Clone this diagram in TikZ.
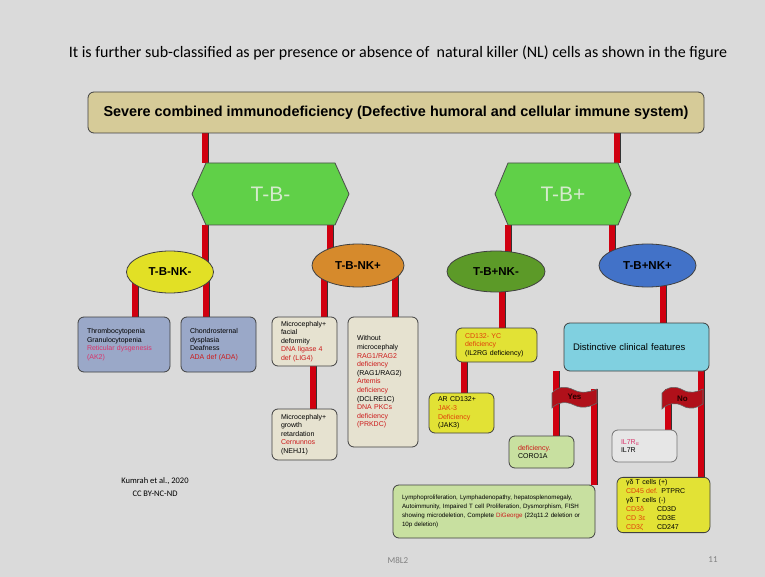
\documentclass[tikz,border=0pt]{standalone}
\usepackage{fontspec}
\setmainfont{Liberation Sans}
\newfontfamily\calib{Carlito}
\usetikzlibrary{shapes.geometric}
\definecolor{bgc}{HTML}{DADADA}
\definecolor{topfill}{HTML}{D6CB98}
\definecolor{hexfill}{HTML}{60D048}
\definecolor{hextxt}{HTML}{D5EACD}
\definecolor{ylw}{HTML}{E2E025}
\definecolor{org}{HTML}{D68A2C}
\definecolor{dgreen}{HTML}{5C9A28}
\definecolor{blu}{HTML}{4272C8}
\definecolor{bluegray}{HTML}{9AA8C8}
\definecolor{beige}{HTML}{E6E2D0}
\definecolor{ybox}{HTML}{E2E235}
\definecolor{lgreen}{HTML}{C8E0A0}
\definecolor{cyanbox}{HTML}{80D0E0}
\definecolor{whitebox}{HTML}{E6E6E6}
\definecolor{barred}{HTML}{D00010}
\definecolor{flagred}{HTML}{B0101A}
\definecolor{redt}{HTML}{CC1A1A}
\definecolor{pinkr}{HTML}{D8336A}
\definecolor{orgt}{HTML}{E0400A}
\pgfdeclarelayer{back}
\pgfdeclarelayer{conns}
\pgfdeclarelayer{shapes}
\pgfsetlayers{back,conns,shapes,main}
\begin{document}
\begin{tikzpicture}[x=1pt,y=-1pt,
  conn/.style={draw=barred, line width=5.4pt, preaction={draw=black!80, line width=7pt}},
  box/.style={draw=black!75, line width=0.8pt, rounded corners=6pt, inner xsep=9pt, inner ysep=2pt,
    align=left, font=\fontsize{7}{8.6}\selectfont},
  ell/.style={ellipse, draw=black!75, line width=0.8pt, inner sep=0pt, outer sep=0pt,
    font=\bfseries\fontsize{11.5}{12}\selectfont},
  hexn/.style={inner sep=0pt, outer sep=0pt, text=hextxt, font=\fontsize{21}{24}\selectfont},
  hexs/.style={fill=hexfill, draw=black!70, line width=0.8pt},
  flag/.style={fill=flagred, draw=black!60, line width=0.6pt},
  flagtxt/.style={inner sep=0pt, outer sep=0pt, text=black!85!red, font=\bfseries\fontsize{8}{9}\selectfont}
]
\useasboundingbox (0,0) rectangle (765,577);
\begin{pgfonlayer}{back}
\fill[bgc] (0,0) rectangle (765,577);
\end{pgfonlayer}

% title
\node[font=\calib\fontsize{16}{19}\selectfont] (title) at (398,53)
  {It is further sub-classified as per presence or absence of \ natural killer (NL) cells as shown in the figure};

% top box
\node[draw=black!75, line width=0.8pt, rounded corners=6pt, fill=topfill, minimum width=616pt, minimum height=41pt,
  font=\bfseries\fontsize{14.4}{16}\selectfont] (scid) at (396,112.5)
  {Severe combined immunodeficiency (Defective humoral and cellular immune system)};

% hexagons
\node[hexn, minimum width=157pt, minimum height=62pt] (hexA) at (270.5,194) {T-B-};
\node[hexn, minimum width=136pt, minimum height=62pt] (hexB) at (563,194) {T-B+};

% ellipses
\node[ell, fill=ylw, minimum width=87pt, minimum height=42pt] (e1) at (170,272) {T-B-NK-};
\node[ell, fill=org, minimum width=92pt, minimum height=43pt] (e2) at (358,265.5) {T-B-NK+};
\node[ell, fill=dgreen, minimum width=98pt, minimum height=41pt] (e3) at (496,271.5) {T-B+NK-};
\node[ell, fill=blu, minimum width=97pt, minimum height=43pt] (e4) at (647.5,265.5) {T-B+NK+};

% boxes
\node[box, fill=bluegray, text width=74pt, minimum height=55pt] (b1) at (124,344.5)
  {Thrombocytopenia\\Granulocytopenia\\{\color{pinkr}Reticular dysgenesis}\\{\color{pinkr}(AK2)}};
\node[box, fill=bluegray, text width=57pt, minimum height=55pt] (b2) at (218.5,344.5)
  {Chondrosternal\\dysplasia\\Deafness\\{\color{redt}ADA def (ADA)}};
\node[box, fill=beige, text width=47pt, minimum height=49pt] (b3) at (304.5,341.5)
  {Microcephaly+\\facial\\deformity\\{\color{redt}DNA ligase 4}\\{\color{redt}def (LIG4)}};
\node[box, fill=beige, text width=47pt, minimum height=51pt] (b4) at (304.5,434.5)
  {Microcephaly+\\growth\\retardation\\{\color{redt}Cernunnos}\\(NEHJ1)};
\node[box, fill=beige, text width=52pt, minimum height=130pt] (b5) at (383,382)
  {Without\\microcephaly\\{\color{redt}RAG1/RAG2}\\{\color{redt}deficiency}\\(RAG1/RAG2)\\{\color{redt}Artemis}\\{\color{redt}deficiency}\\(DCLRE1C)\\{\color{redt}DNA PKCs}\\{\color{redt}deficiency}\\{\color{redt}(PRKDC)}};
\node[box, fill=ybox, text width=63pt, minimum height=34pt] (b6) at (496.5,345)
  {{\color{orgt}CD132- YC}\\{\color{orgt}deficiency}\\(IL2RG deficiency)};
\node[box, fill=ybox, text width=47pt, minimum height=40pt] (b7) at (461.5,413)
  {AR CD132+\\{\color{orgt}JAK-3}\\{\color{orgt}Deficiency}\\(JAK3)};
\node[box, fill=cyanbox, text width=127pt, minimum height=48pt, font=\fontsize{9.5}{11}\selectfont] (b8) at (636.5,347)
  {Distinctive clinical features};
\node[box, fill=lgreen, text width=47pt, minimum height=32pt] (b9) at (541.5,452)
  {{\color{redt}deficiency.}\\CORO1A};
\node[box, fill=whitebox, draw=black!55, text width=47pt, minimum height=32pt] (b10) at (644.5,446)
  {{\color{pinkr}IL7R\textsubscript{α}}\\IL7R};
\node[box, fill=lgreen, text width=184pt, minimum height=53pt, font=\fontsize{6.2}{9}\selectfont] (b11) at (494,511.5)
  {Lymphoproliferation, Lymphadenopathy, hepatosplenomegaly,\\Autoimmunity, Impaired T cell Proliferation, Dysmorphism, FISH\\showing microdeletion, Complete {\color{redt}DiGeorge} (22q11.2 deletion or\\10p deletion)};
\node[box, fill=ybox, text width=75pt, minimum height=54pt, font=\fontsize{7}{9}\selectfont] (b12) at (663.5,505)
  {γδ T cells (+)\\{\color{orgt}CD45 def.} PTPRC\\γδ T cells (-)\\\makebox[31pt][l]{\color{orgt}CD3δ}CD3D\\\makebox[31pt][l]{\color{orgt}CD 3ε}CD3E\\\makebox[31pt][l]{\color{orgt}CD3ζ}CD247};

% flags text nodes
\node[flagtxt, minimum width=45pt, minimum height=16pt] (yes) at (574.5,397) {Yes};
\node[flagtxt, minimum width=41pt, minimum height=19pt] (no) at (682.5,398.5) {No};

% shapes layer: hexagons and flags
\begin{pgfonlayer}{shapes}
\filldraw[hexs] (hexA.west) -- ([xshift=14pt]hexA.north west) -- ([xshift=-14pt]hexA.north east) -- (hexA.east)
  -- ([xshift=-14pt]hexA.south east) -- ([xshift=14pt]hexA.south west) -- cycle;
\filldraw[hexs] (hexB.west) -- ([xshift=13pt]hexB.north west) -- ([xshift=-13pt]hexB.north east) -- (hexB.east)
  -- ([xshift=-13pt]hexB.south east) -- ([xshift=13pt]hexB.south west) -- cycle;
\filldraw[flag] (552,393) .. controls (558,386) and (566,386) .. (574,390) .. controls (582,394) and (590,392) .. (597,389)
  -- (597,403) .. controls (590,407) and (582,409) .. (574,405) .. controls (566,401) and (558,402) .. (552,408) -- cycle;
\filldraw[flag] (662,393) .. controls (668,386) and (676,386) .. (683,390) .. controls (690,394) and (697,392) .. (703,389)
  -- (703,404) .. controls (697,408) and (690,410) .. (683,406) .. controls (676,402) and (668,403) .. (662,409) -- cycle;
\end{pgfonlayer}

% connectors
\begin{pgfonlayer}{conns}
\draw[conn] (scid.south -| 205,0) -- (hexA.north -| 205,0);
\draw[conn] (scid.south -| 617,0) -- (hexB.north -| 617,0);
\draw[conn] (hexA.south -| 205,0) -- (e1.center -| 205,0);
\draw[conn] (hexA.south -| 330,0) -- (e2.center -| 330,0);
\draw[conn] (hexB.south -| 508,0) -- (e3.center -| 508,0);
\draw[conn] (hexB.south -| 612,0) -- (e4.center -| 612,0);
\draw[conn] (e1.center -| 135,0) -- (b1.north -| 135,0);
\draw[conn] (e1.center -| 206,0) -- (b2.north -| 206,0);
\draw[conn] (e2.center -| 324,0) -- (b3.north -| 324,0);
\draw[conn] (e2.center -| 395,0) -- (b5.north -| 395,0);
\draw[conn] (b3.south -| 313,0) -- (b4.north -| 313,0);
\draw[conn] (e3.center -| 502,0) -- (b6.north -| 502,0);
\draw[conn] (b6.south -| 464,0) -- (b7.north -| 464,0);
\draw[conn] (e4.center -| 663,0) -- (b8.north -| 663,0);
\draw[conn] (b8.south -| 556,0) -- (b9.north -| 556,0);
\draw[conn] (yes.north -| 594,0) -- (b11.north -| 594,0);
\draw[conn] (no.north -| 668,0) -- (b10.north -| 668,0);
\draw[conn] ([yshift=4pt]b8.south -| 701,0) -- (b12.north -| 701,0);
\end{pgfonlayer}

% footer texts
\node[font=\calib\fontsize{8.5}{13}\selectfont, align=center] (cite) at (155,487) {Kumrah et al., 2020\\CC BY-NC-ND};
\node[font=\calib\fontsize{9}{11}\selectfont, text=black!50] (slide) at (398,560) {M8L2};
\node[font=\calib\fontsize{9}{11}\selectfont, text=black!50] (pnum) at (713,560) {11};
\end{tikzpicture}
\end{document}
